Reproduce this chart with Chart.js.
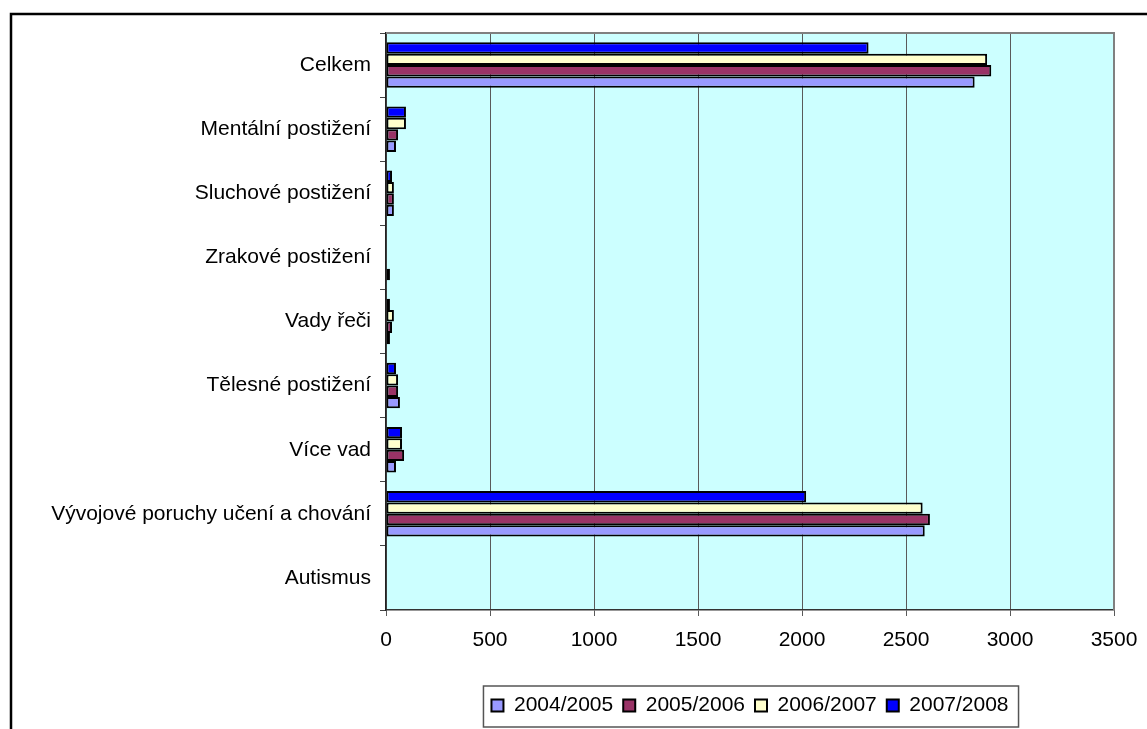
<!DOCTYPE html>
<html>
<head>
<meta charset="utf-8">
<script src="https://cdn.jsdelivr.net/npm/chart.js@4.4.0/dist/chart.umd.min.js"></script>
<style>
  body { margin: 0; background: #fff; }
  #wrap { width: 1147px; height: 729px; }
</style>
</head>
<body>
<div id="wrap"><canvas id="chart" width="1147" height="729"></canvas></div>
<script>
// categories, top to bottom
const categories = [
  "Celkem",
  "Mentální postižení",
  "Sluchové postižení",
  "Zrakové postižení",
  "Vady řeči",
  "Tělesné postižení",
  "Více vad",
  "Vývojové poruchy učení a chování",
  "Autismus",
];

// values
const y2004 = [2830, 48, 38, 19, 19, 67, 48, 2590, 0];
const y2005 = [2910, 58, 38, 0, 29, 58, 87, 2615, 0];
const y2006 = [2890, 96, 38, 0, 38, 58, 77, 2580, 0];
const y2007 = [2320, 96, 29, 0, 19, 48, 77, 2020, 0];

const xTicks = [0, 500, 1000, 1500, 2000, 2500, 3000, 3500];

const FONT = { family: "'Liberation Sans', Arial, sans-serif", size: 21 };

// plot background, frame and legend box
const decor = {
  id: "decor",
  beforeDraw(chart) {
    const { ctx, chartArea: a } = chart;
    ctx.save();
    ctx.fillStyle = "#CCFFFF";
    ctx.fillRect(a.left, a.top, a.right - a.left, a.bottom - a.top);
    ctx.restore();
  },
  afterLayout(chart) {
    // centre the legend under the plot area
    const lg = chart.legend;
    const a = chart.chartArea;
    lg.left = a.left;
    lg.right = a.right;
    lg.width = a.right - a.left;
    lg.top = 685;
    lg.bottom = 727;
  },
  afterDraw(chart) {
    const { ctx, chartArea: a } = chart;
    ctx.save();
    // grey plot border top / right
    ctx.strokeStyle = "#808080";
    ctx.lineWidth = 2;
    ctx.beginPath();
    ctx.moveTo(a.left, a.top);
    ctx.lineTo(a.right, a.top);
    ctx.lineTo(a.right, a.bottom);
    ctx.stroke();

    // outer frame (left and top only visible)
    ctx.strokeStyle = "#000";
    ctx.lineWidth = 2.5;
    ctx.beginPath();
    ctx.moveTo(11, 729);
    ctx.lineTo(11, 14);
    ctx.lineTo(1147, 14);
    ctx.stroke();

    // legend box
    const hb = chart.legend.legendHitBoxes;
    if (hb && hb.length) {
      const l = Math.min(...hb.map((h) => h.left)) - 8;
      const r = Math.max(...hb.map((h) => h.left + h.width)) + 10;
      ctx.strokeStyle = "#555";
      ctx.lineWidth = 1.5;
      ctx.strokeRect(l, 686, r - l, 41);
    }
    ctx.restore();
  },
};

new Chart(document.getElementById("chart"), {
  type: "bar",
  data: {
    labels: categories,
    datasets: [
      { label: "2007/2008", data: y2007, backgroundColor: "#0000FF" },
      { label: "2006/2007", data: y2006, backgroundColor: "#FFFFCC" },
      { label: "2005/2006", data: y2005, backgroundColor: "#993366" },
      { label: "2004/2005", data: y2004, backgroundColor: "#9999FF" },
    ],
  },
  options: {
    indexAxis: "y",
    responsive: false,
    animation: false,
    devicePixelRatio: 1,
    layout: { padding: { left: 10, top: 33, right: 33, bottom: 0 } },
    datasets: {
      bar: {
        borderColor: "#000",
        borderWidth: 2,
        borderSkipped: false,
        categoryPercentage: 0.71,
        barPercentage: 1.0,
      },
    },
    plugins: {
      tooltip: { enabled: false },
      legend: {
        position: "bottom",
        reverse: true,
        labels: {
          color: "#000",
          font: FONT,
          boxWidth: 12,
          boxHeight: 12,
          padding: 10,
        },
      },
    },
    scales: {
      x: {
        min: 0,
        max: 3500,
        afterBuildTicks(scale) {
          scale.ticks = xTicks.map((v) => ({ value: v }));
        },
        afterFit(scale) {
          scale.height = 78;
          scale.paddingLeft = 0;
          scale.paddingRight = 0;
        },
        grid: {
          color: "#5a5a5a",
          lineWidth: 1,
          tickLength: 6,
          drawOnChartArea: true,
        },
        border: { color: "#333", width: 1.5 },
        ticks: {
          color: "#000",
          font: FONT,
          padding: 12,
          maxRotation: 0,
          callback: (v) => String(v),
        },
      },
      y: {
        afterFit(scale) {
          scale.width = 376;
        },
        grid: {
          color: "#444",
          drawOnChartArea: false,
          tickLength: 6,
        },
        border: { color: "#222", width: 1.5 },
        ticks: { color: "#000", font: FONT, padding: 9, autoSkip: false },
      },
    },
  },
  plugins: [decor],
});
</script>
</body>
</html>
